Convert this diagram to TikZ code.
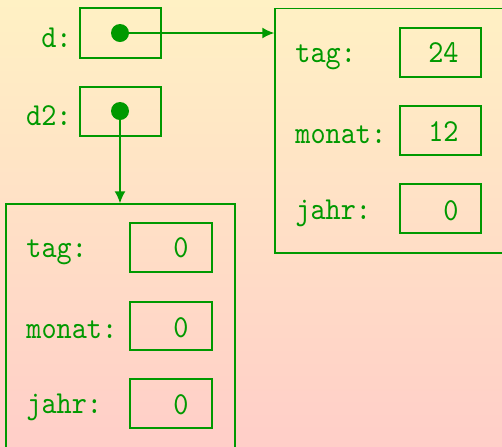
\documentclass[tikz,border=0pt]{standalone}
\usepackage{fontspec}
\newfontfamily\ttx{lmmono10-regular.otf}[FakeStretch=0.9]
\usetikzlibrary{arrows.meta}
\definecolor{fg}{RGB}{0,153,0}
\definecolor{bgtop}{RGB}{255,241,196}
\definecolor{bgbot}{RGB}{255,206,200}
\begin{document}
\begin{tikzpicture}[x=0.5pt,y=-0.5pt,
  box/.style={draw=fg,line width=0.75pt,rectangle,inner sep=0pt},
  lbl/.style={text=fg,font=\fontsize{16}{18}\selectfont\ttx,inner sep=0pt},
  ptr/.style={draw=fg,line width=0.75pt,-{Latex[length=6pt,width=5.5pt]}},
  dotnode/.style={circle,fill=fg,inner sep=0pt,minimum size=9pt}]
\useasboundingbox (0,0) rectangle (502,446);
\shade[top color=bgtop,bottom color=bgbot] (0,0) rectangle (502,446);
\clip (0,0) rectangle (502,446);
% pointer cells
\node[box,minimum width=40.5pt,minimum height=25pt] (dcell) at (120.5,33) {};
\node[dotnode] (ddot) at (120,33) {};
\node[box,minimum width=40.5pt,minimum height=24.5pt] (dtwocell) at (120.5,111.5) {};
\node[dotnode] (dtwodot) at (120,111) {};
\node[lbl,anchor=base east] (dl) at (72,47) {d:};
\node[lbl,anchor=base east] (dtwol) at (72,125) {d2:};
% right record
\node[box,minimum width=142.5pt,minimum height=122.25pt] (rbox) at (417.5,130.75) {};
\node[box,minimum width=40.5pt,minimum height=24.5pt] (rtag) at (440.5,52.5) {};
\node[box,minimum width=40.5pt,minimum height=24.5pt] (rmon) at (440.5,130.5) {};
\node[box,minimum width=40.5pt,minimum height=24.5pt] (rjahr) at (440.5,208.5) {};
\node[lbl,anchor=base west] (rtagl) at (295,62) {tag:};
\node[lbl,anchor=base west] (rmonl) at (295,143) {monat:};
\node[lbl,anchor=base west] (rjahrl) at (295,219) {jahr:};
\node[lbl,anchor=base east] (rtagv) at (459,62) {24};
\node[lbl,anchor=base east] (rmonv) at (459,141) {12};
\node[lbl,anchor=base east] (rjahrv) at (459,220) {0};
% left record
\node[box,minimum width=114.5pt,minimum height=138pt] (lbox) at (120.5,342) {};
\node[box,minimum width=41pt,minimum height=24.5pt] (ltag) at (171,247.5) {};
\node[box,minimum width=41pt,minimum height=24pt] (lmon) at (171,326) {};
\node[box,minimum width=41pt,minimum height=24.5pt] (ljahr) at (171,403.5) {};
\node[lbl,anchor=base west] (ltagl) at (26,257) {tag:};
\node[lbl,anchor=base west] (lmonl) at (26,338) {monat:};
\node[lbl,anchor=base west] (ljahrl) at (26,413) {jahr:};
\node[lbl,anchor=base east] (ltagv) at (189,257) {0};
\node[lbl,anchor=base east] (lmonv) at (189,337) {0};
\node[lbl,anchor=base east] (ljahrv) at (189,414) {0};
% pointers
\draw[ptr] (ddot.center) -- (rbox.west |- ddot.center);
\draw[ptr] (dtwodot.center) -- (lbox.north -| dtwodot.center);
\end{tikzpicture}
\end{document}
